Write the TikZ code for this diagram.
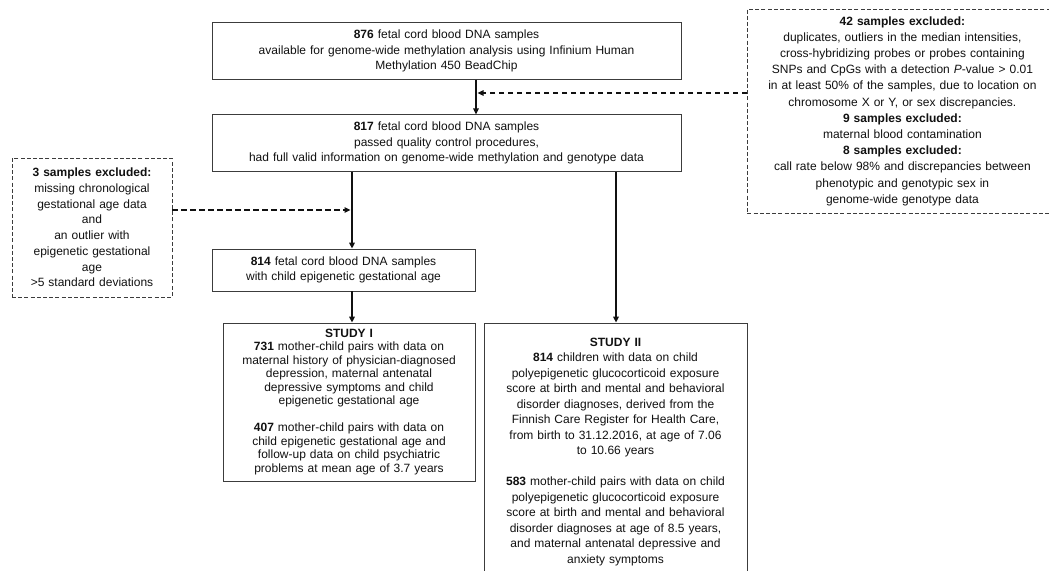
\documentclass[tikz,border=0pt]{standalone}
\usepackage{fontspec}
\setmainfont{Liberation Sans}[WordSpace=1.25]
\usetikzlibrary{arrows.meta,positioning}
\definecolor{ink}{HTML}{111111}
\definecolor{ink2}{HTML}{3C3C3C}
\tikzset{
  >={Triangle[length=6pt,width=5.5pt]},
  box/.style={draw=ink2, fill=white, align=center, line width=0.8pt, inner sep=2pt,
    text=ink, font=\fontsize{12}{15.5}\selectfont},
  exbox/.style={box, dash pattern=on 4pt off 2.2pt},
  arr/.style={->, draw=ink, line width=2pt},
  exarr/.style={->, draw=ink, line width=1.5pt, dash pattern=on 5.5pt off 3.5pt},
}
\begin{document}
\begin{tikzpicture}[x=1pt, y=-1pt]
  \useasboundingbox (0,0) rectangle (1049,570);
  \clip (0,0) rectangle (1049,570);
  % ===================== main column =====================
  \node[box, minimum width=469, minimum height=56.3, text width=462] (avail) at (446.5,51)
    {\textbf{876} fetal cord blood DNA samples\\
     available for genome-wide methylation analysis using Infinium Human\\
     Methylation 450 BeadChip};
  \node[box, minimum width=469, minimum height=56.3, text width=462] (qc) at (446.5,143)
    {\textbf{817} fetal cord blood DNA samples\\
     passed quality control procedures,\\
     had full valid information on genome-wide methylation and genotype data};
  \node[box, minimum width=263, minimum height=42, text width=257] (epi) at (343.5,270)
    {\textbf{814} fetal cord blood DNA samples\\
     with child epigenetic gestational age};
  % ===================== exclusions =====================
  \node[exbox, anchor=west, minimum height=204, text width=306,
    font=\fontsize{12}{16.2}\selectfont] (exqc) at (747,111)
    {\textbf{42 samples excluded:}\\
     duplicates, outliers in the median intensities,\\
     cross-hybridizing probes or probes containing\\
     SNPs and CpGs with a detection \textit{P}-value > 0.01\\
     in at least 50\% of the samples, due to location on\\
     chromosome X or Y, or sex discrepancies.\\
     \textbf{9 samples excluded:}\\
     maternal blood contamination\\
     \textbf{8 samples excluded:}\\
     call rate below 98\% and discrepancies between\\
     phenotypic and genotypic sex in\\
     genome-wide genotype data};
  \node[exbox, minimum width=160, minimum height=139, text width=156,
    font=\fontsize{12}{15.7}\selectfont] (exage) at (92,227.5)
    {\textbf{3 samples excluded:}\\
     missing chronological\\
     gestational age data\\
     and\\
     an outlier with\\
     epigenetic gestational\\
     age\\
     >5 standard deviations};
  % ===================== studies =====================
  \node[box, minimum width=252, minimum height=158, text width=248,
    font=\fontsize{12}{13.5}\selectfont] (study1) at (349,402)
    {\textbf{STUDY I}\\
     \textbf{731} mother-child pairs with data on\\
     maternal history of physician-diagnosed\\
     depression, maternal antenatal\\
     depressive symptoms and child\\
     epigenetic gestational age\\[13.5pt]
     \textbf{407} mother-child pairs with data on\\
     child epigenetic gestational age and\\
     follow-up data on child psychiatric\\
     problems at mean age of 3.7 years};
  \node[box, minimum width=263, minimum height=258, text width=259,
    font=\fontsize{12}{15.5}\selectfont] (study2) at (615.5,452)
    {\textbf{STUDY II}\\
     \textbf{814} children with data on child\\
     polyepigenetic glucocorticoid exposure\\
     score at birth and mental and behavioral\\
     disorder diagnoses, derived from the\\
     Finnish Care Register for Health Care,\\
     from birth to 31.12.2016, at age of 7.06\\
     to 10.66 years\\[15.5pt]
     \textbf{583} mother-child pairs with data on child\\
     polyepigenetic glucocorticoid exposure\\
     score at birth and mental and behavioral\\
     disorder diagnoses at age of 8.5 years,\\
     and maternal antenatal depressive and\\
     anxiety symptoms};
  % ===================== connectors =====================
  \coordinate (colA) at (476,0);
  \coordinate (colB) at (352,0);
  \coordinate (colC) at (616,0);
  \coordinate (rowA) at (0,93);
  \coordinate (rowB) at (0,210);
  \draw[arr] (colA |- avail.south) -- (colA |- qc.north);
  \draw[exarr] (rowA -| exqc.west) -- ([xshift=1.5pt]rowA -| colA);
  \draw[arr] (colB |- qc.south) -- (colB |- epi.north);
  \draw[exarr] (rowB -| exage.east) -- ([xshift=-1.5pt]rowB -| colB);
  \draw[arr] (colB |- epi.south) -- (colB |- study1.north);
  \draw[arr] (colC |- qc.south) -- (colC |- study2.north);
\end{tikzpicture}
\end{document}
